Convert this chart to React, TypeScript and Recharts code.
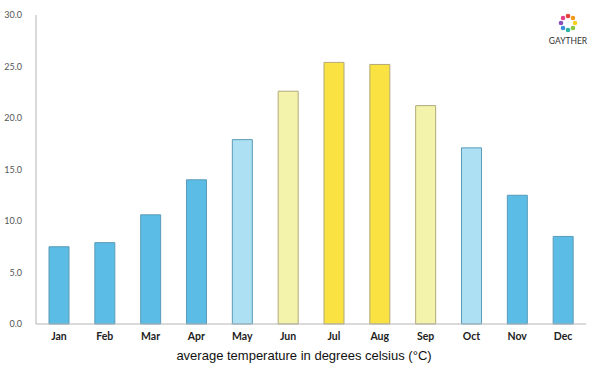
import { Bar, BarChart, Cell, XAxis, YAxis } from 'recharts'

const months = ['Jan', 'Feb', 'Mar', 'Apr', 'May', 'Jun', 'Jul', 'Aug', 'Sep', 'Oct', 'Nov', 'Dec']
const avgTemps = [7.5, 7.9, 10.6, 14.0, 17.9, 22.6, 25.4, 25.2, 21.2, 17.1, 12.5, 8.5]
const yTicks = [0, 5, 10, 15, 20, 25, 30]

const data = months.map((month, i) => ({ month, temp: avgTemps[i] }))

// colour band by temperature
const fillFor = (v: number) => {
  if (v < 15) return '#5bbde6'
  if (v < 20) return '#ade0f2'
  if (v < 25) return '#f3f3ac'
  return '#f9e241'
}
const strokeFor = (v: number) => (v < 20 ? '#5a9bb8' : '#b2a978')

const logoColors = ['#e8403a', '#f39a1e', '#f6d022', '#8cc63f', '#2bb3a0', '#3a8fd8', '#8a4fbf', '#e0418a']

function Logo() {
  return (
    <svg width={60} height={50} style={{ position: 'absolute', left: 538, top: 8 }}>
      {logoColors.map((c, i) => {
        const a = (i / logoColors.length) * Math.PI * 2 - Math.PI / 2
        return <circle key={c} cx={30 + Math.cos(a) * 7} cy={15 + Math.sin(a) * 7} r={2.3} fill={c} />
      })}
      <text x={30} y={36} textAnchor="middle" fontSize={8.5} fontFamily="Lato, sans-serif" fill="#333">
        GAYTHER
      </text>
    </svg>
  )
}

export default function App() {
  return (
    <div style={{ position: 'absolute', left: 0, top: 0, width: 600, height: 375, background: '#fff' }}>
      <BarChart width={600} height={375} data={data} margin={{ top: 15, right: 14, bottom: 21, left: 0 }}>
        <YAxis
          width={36}
          domain={[0, 30]}
          ticks={yTicks}
          tickFormatter={(v: number) => v.toFixed(1)}
          tickLine={false}
          tickMargin={8}
          axisLine={{ stroke: '#cccccc', strokeWidth: 1.5 }}
          tick={{ fill: '#555', fontSize: 9, fontFamily: 'Lato, sans-serif' }}
        />
        <XAxis
          dataKey="month"
          height={30}
          tickLine={false}
          tickMargin={3}
          axisLine={{ stroke: '#b5b5b5', strokeWidth: 1 }}
          tick={{ fill: '#222', fontSize: 10.5, fontWeight: 700, fontFamily: 'Lato, sans-serif' }}
        />
        <Bar dataKey="temp" barSize={20} isAnimationActive={false}>
          {data.map((d) => (
            <Cell key={d.month} fill={fillFor(d.temp)} stroke={strokeFor(d.temp)} strokeWidth={1} />
          ))}
        </Bar>
      </BarChart>
      <div
        style={{
          position: 'absolute',
          left: 0,
          top: 348,
          width: 608,
          textAlign: 'center',
          fontFamily: '"Liberation Sans", Arial, sans-serif',
          fontSize: 13,
          color: '#111',
        }}
      >
        average temperature in degrees celsius (°C)
      </div>
      <Logo />
    </div>
  )
}
